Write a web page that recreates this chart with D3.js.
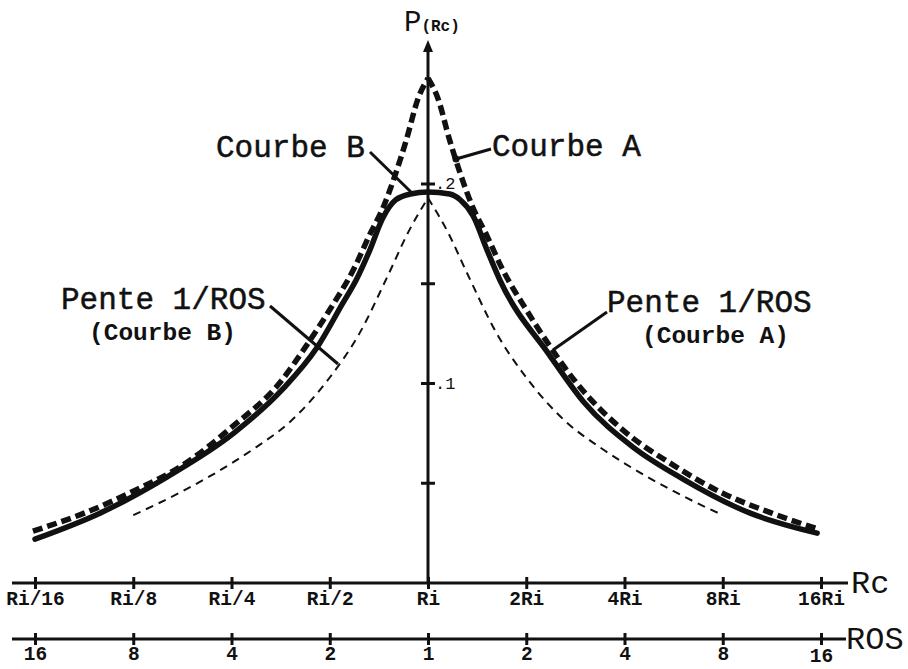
<!DOCTYPE html>
<html>
<head>
<meta charset="utf-8">
<script src="https://cdn.jsdelivr.net/npm/d3@7"></script>
<style>
  html, body { margin: 0; padding: 0; background: #fff; }
  svg { display: block; }
  text { font-family: "Liberation Mono", "Courier New", monospace; fill: #111; }
</style>
</head>
<body>
<div id="chart"></div>
<script>
// axis ticks (Rc as ratio Rc/Ri, log2 spaced)
const rcTicks = [0.0625, 0.125, 0.25, 0.5, 1, 2, 4, 8, 16]
const rcLabels = ["Ri/16", "Ri/8", "Ri/4", "Ri/2", "Ri", "2Ri", "4Ri", "8Ri", "16Ri"]
const rosLabels = ["16", "8", "4", "2", "1", "2", "4", "8", "16"]
const pTicks = [0.05, 0.1, 0.15, 0.2]
const pLabels = ["", ".1", "", ".2"]

// Courbe A (thick dashed, sharp peak at Rc = Ri)
const aRc = [0.0616, 0.0884, 0.125, 0.177, 0.25, 0.354, 0.42, 0.5, 0.595, 0.66, 0.732, 0.795, 0.858, 0.933, 1,
             1.072, 1.165, 1.257, 1.366, 1.516, 1.682, 2, 2.378, 2.828, 4, 5.657, 8, 11.31, 15.67]
const aP = [0.026, 0.035, 0.046, 0.059, 0.078, 0.101, 0.118, 0.137, 0.158, 0.174, 0.189, 0.205, 0.222, 0.243, 0.253,
            0.243, 0.222, 0.205, 0.189, 0.174, 0.158, 0.137, 0.118, 0.101, 0.076, 0.059, 0.045, 0.035, 0.027]

// Courbe B (thick solid, flat top)
const bRc = [0.0625, 0.0988, 0.158, 0.2535, 0.358, 0.457, 0.547, 0.603, 0.66, 0.727, 0.796, 0.883, 1,
             1.165, 1.257, 1.375, 1.516, 1.659, 2.362, 2.99, 4.257, 6.063, 9.71, 15.57]
const bP = [0.022, 0.035, 0.053, 0.075, 0.097, 0.118, 0.140, 0.152, 0.166, 0.183, 0.192, 0.195, 0.196,
            0.195, 0.192, 0.184, 0.167, 0.152, 0.114, 0.091, 0.068, 0.052, 0.035, 0.025]

// thin dashed curve
const cRc = [0.125, 0.177, 0.25, 0.297, 0.379, 0.5, 0.616, 0.758, 0.871, 1,
             1.149, 1.32, 1.625, 2, 2.639, 3.364, 4, 5.657, 8]
const cP = [0.034, 0.046, 0.060, 0.068, 0.081, 0.103, 0.125, 0.155, 0.176, 0.193,
            0.176, 0.155, 0.125, 0.103, 0.081, 0.068, 0.060, 0.046, 0.034]

const width = 908, height = 669
const svg = d3.select("#chart").append("svg")
    .attr("width", width)
    .attr("height", height)

const x = d3.scaleLog().base(2).domain([0.0625, 16]).range([35, 821])
const y = d3.scaleLinear().domain([0, 0.2]).range([583, 184])
const rosY = 639

const zip = (xs, ys) => xs.map((d, i) => [d, ys[i]])
const line = d3.line().x(d => x(d[0])).y(d => y(d[1])).curve(d3.curveMonotoneX)

// cusp curves: draw each half separately so the peak stays sharp
const cuspPath = pts => {
    const left = pts.filter(d => d[0] <= 1)
    const right = pts.filter(d => d[0] >= 1)
    return line(left) + line(right)
}

// ---- bottom axes ----
const axisLeft = x.range()[0] - 23, axisRight = x.range()[1] + 27

const rcAxis = svg.append("g").attr("transform", `translate(0,${y(0)})`)
    .call(d3.axisBottom(x).tickValues(rcTicks).tickFormat((d, i) => rcLabels[i]).tickSize(6))
rcAxis.select(".domain").remove()
rcAxis.insert("line", ":first-child")
    .attr("x1", axisLeft).attr("x2", axisRight)
    .attr("stroke", "#111").attr("stroke-width", 3)
rcAxis.selectAll(".tick line").attr("y1", -6).attr("y2", 6).attr("stroke", "#111").attr("stroke-width", 3)
rcAxis.selectAll(".tick text")
    .attr("y", 22).attr("dy", 0)
    .style("font-family", "'Liberation Mono', monospace")
    .style("font-size", "19.5px").style("font-weight", "bold").attr("fill", "#111")
rcAxis.append("text")
    .attr("x", axisRight + 3).attr("y", 10)
    .attr("text-anchor", "start")
    .style("font-size", "32px").attr("fill", "#111")
    .text("Rc")

const rosAxis = svg.append("g").attr("transform", `translate(0,${rosY})`)
    .call(d3.axisBottom(x).tickValues(rcTicks).tickFormat((d, i) => rosLabels[i]).tickSize(6))
rosAxis.select(".domain").remove()
rosAxis.insert("line", ":first-child")
    .attr("x1", axisLeft).attr("x2", axisRight - 2)
    .attr("stroke", "#111").attr("stroke-width", 3)
rosAxis.selectAll(".tick line").attr("y1", -6).attr("y2", 6).attr("stroke", "#111").attr("stroke-width", 3)
rosAxis.selectAll(".tick text")
    .attr("y", (d, i) => i == rcTicks.length - 1 ? 23 : 21).attr("dy", 0)
    .style("font-family", "'Liberation Mono', monospace")
    .style("font-size", "19.5px").style("font-weight", "bold").attr("fill", "#111")
rosAxis.append("text")
    .attr("x", axisRight - 2).attr("y", 10)
    .attr("text-anchor", "start")
    .style("font-size", "32px").attr("fill", "#111")
    .text("ROS")

// ---- vertical P axis ----
const x0 = x(1)
const yTop = 40
svg.append("line")
    .attr("x1", x0).attr("x2", x0).attr("y1", y(0)).attr("y2", yTop + 8)
    .attr("stroke", "#111").attr("stroke-width", 3)
svg.append("path")
    .attr("d", `M${x0},${yTop} L${x0 - 5},${yTop + 12} L${x0 + 5},${yTop + 12} Z`)
    .attr("fill", "#111")

const yt = svg.append("g").selectAll("g").data(pTicks).join("g")
    .attr("transform", d => `translate(${x0},${y(d)})`)
yt.append("line").attr("x1", -7).attr("x2", 7).attr("stroke", "#111").attr("stroke-width", 3)
yt.append("text")
    .attr("x", 7).attr("y", 5)
    .style("font-size", "17px")
    .text((d, i) => pLabels[i])

const pLab = svg.append("text").attr("x", 404).attr("y", 31)
pLab.append("tspan").style("font-size", "29px").text("P")
pLab.append("tspan").style("font-size", "16px").style("font-weight", "bold").text("(Rc)")

// ---- curves ----
svg.append("path")
    .attr("d", cuspPath(zip(cRc, cP)))
    .attr("fill", "none").attr("stroke", "#111")
    .attr("stroke-width", 2).attr("stroke-dasharray", "8,6")

svg.append("path")
    .attr("d", line(zip(bRc, bP)))
    .attr("fill", "none").attr("stroke", "#111")
    .attr("stroke-width", 5.5).attr("stroke-linecap", "round")

svg.append("path")
    .attr("d", cuspPath(zip(aRc, aP)))
    .attr("fill", "none").attr("stroke", "#111")
    .attr("stroke-width", 5.5).attr("stroke-dasharray", "10,5")

// ---- annotations ----
const leaders = [
    [370, 152, 412, 193],
    [491, 149, 456, 159],
    [270, 306, 338, 364],
    [607, 312, 553, 350]
]
svg.append("g").selectAll("line").data(leaders).join("line")
    .attr("x1", d => d[0]).attr("y1", d => d[1])
    .attr("x2", d => d[2]).attr("y2", d => d[3])
    .attr("stroke", "#111").attr("stroke-width", 3)
svg.append("circle").attr("cx", 456).attr("cy", 159).attr("r", 3.5).attr("fill", "#111")

const notes = [
    {t: "Courbe B", x: 216, y: 157, size: 31, bold: false},
    {t: "Courbe A", x: 492, y: 156, size: 31, bold: false},
    {t: "Pente 1/ROS", x: 61, y: 309, size: 31, bold: false},
    {t: "(Courbe B)", x: 89, y: 340, size: 24.5, bold: true},
    {t: "Pente 1/ROS", x: 607, y: 312, size: 31, bold: false},
    {t: "(Courbe A)", x: 642, y: 343, size: 24.5, bold: true}
]
svg.append("g").selectAll("text").data(notes).join("text")
    .attr("x", d => d.x).attr("y", d => d.y)
    .style("font-size", d => d.size + "px")
    .style("font-weight", d => d.bold ? "bold" : "normal")
    .attr("stroke", d => d.bold ? "none" : "#111")
    .attr("stroke-width", 0.5)
    .text(d => d.t)
</script>
</body>
</html>
